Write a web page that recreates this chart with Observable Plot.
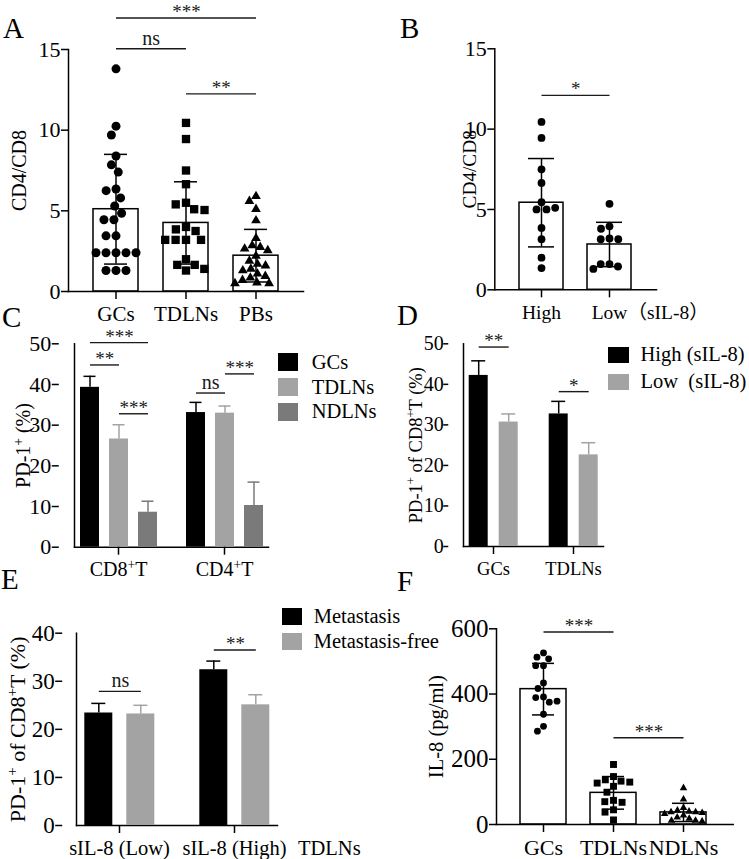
<!DOCTYPE html>
<html><head><meta charset="utf-8">
<script src="https://cdn.jsdelivr.net/npm/d3@7"></script>
<script src="https://cdn.jsdelivr.net/npm/@observablehq/plot@0.6"></script>
<style>
html,body{margin:0;padding:0;background:#fff;}
#fig{position:relative;width:749px;height:859px;overflow:hidden;background:#fff;font-family:"Liberation Serif","Times New Roman",serif;color:#000;}
.letter{font-size:29px;line-height:1;}
</style></head><body><div id="fig"></div>
<script>
// ---------------- DATA ----------------
// Panel A: CD4/CD8 by tissue
const aGroups = ["GCs", "TDLNs", "PBs"];
const aGCs = [13.8, 10.25, 9.7, 8.4, 7.85, 7.4, 6.35, 6.25, 5.8, 5.3, 4.85, 4.45, 4.45, 3.45, 3.45, 2.4, 2.4, 2.4, 2.4, 2.4, 1.3, 1.3, 1.3];
const aTDLNs = [10.45, 9.45, 7.5, 6.65, 5.5, 5.4, 5.1, 5.05, 4.0, 3.85, 3.75, 3.2, 3.2, 3.2, 3.2, 2.0, 1.65, 1.65, 1.4, 1.3];
const aPBs = [5.9, 5.6, 5.1, 4.4, 3.3, 2.85, 2.75, 2.65, 2.55, 2.2, 1.9, 1.7, 1.6, 1.4, 1.3, 1.1, 0.95, 0.85, 0.7, 0.55, 0.5, 0.5];
const aMean = [5.1, 4.25, 2.22];
const aSD = [3.4, 2.55, 1.63];
const aTicks = [0, 5, 10, 15];
const aSig = [
  {from: "GCs", to: "PBs", at: 16.95, label: "***"},
  {from: "GCs", to: "TDLNs", at: 15.05, label: "ns"},
  {from: "TDLNs", to: "PBs", at: 12.25, label: "**"}
];

// Panel B: CD4/CD8 by sIL-8 level
const bGroups = ["High", "Low"];
const bHigh = [10.45, 9.45, 7.5, 6.65, 5.45, 5.0, 5.0, 5.1, 3.85, 3.15, 2.0, 1.35];
const bLow = [5.35, 3.95, 3.8, 3.2, 3.15, 3.15, 1.6, 1.6, 1.45, 1.3];
const bMean = [5.42, 2.82];
const bSD = [2.75, 1.38];
const bTicks = [0, 5, 10, 15];
const bSig = [{from: "High", to: "Low", at: 12.1, label: "*"}];

// Panel C: PD-1+ (%)
const cGroups = ["CD8⁺T", "CD4⁺T"];
const cSeries = ["GCs", "TDLNs", "NDLNs"];
const cMean = [[39.3, 26.6, 8.6], [33.1, 32.95, 10.25]];
const cSD = [[2.7, 3.5, 2.7], [2.5, 1.75, 5.75]];
const cTicks = [0, 10, 20, 30, 40, 50];
const cSig = [
  {group: "CD8⁺T", from: "GCs", to: "NDLNs", at: 50.3, label: "***"},
  {group: "CD8⁺T", from: "GCs", to: "TDLNs", at: 44.8, label: "**"},
  {group: "CD8⁺T", from: "TDLNs", to: "NDLNs", at: 32.8, label: "***"},
  {group: "CD4⁺T", from: "GCs", to: "TDLNs", at: 37.9, label: "ns"},
  {group: "CD4⁺T", from: "TDLNs", to: "NDLNs", at: 42.6, label: "***"}
];

// Panel D: PD-1+ of CD8+T (%) by sIL-8
const dGroups = ["GCs", "TDLNs"];
const dSeries = ["High (sIL-8)", "Low\u00a0\u00a0(sIL-8)"];
const dMean = [[42.2, 30.7], [32.7, 22.6]];
const dSD = [[3.6, 2.0], [3.1, 3.0]];
const dTicks = [0, 10, 20, 30, 40, 50];
const dSig = [
  {group: "GCs", from: "High (sIL-8)", to: "Low\u00a0\u00a0(sIL-8)", at: 49.2, label: "**"},
  {group: "TDLNs", from: "High (sIL-8)", to: "Low\u00a0\u00a0(sIL-8)", at: 38.2, label: "*"}
];

// Panel E: PD-1+ of CD8+T (%) in TDLNs
const eGroups = ["sIL-8 (Low)", "sIL-8 (High)"];
const eSeries = ["Metastasis", "Metastasis-free"];
const eMean = [[23.4, 23.2], [32.4, 25.1]];
const eSD = [[2.0, 1.8], [1.8, 2.1]];
const eTicks = [0, 10, 20, 30, 40];
const eSig = [
  {group: "sIL-8 (Low)", from: "Metastasis", to: "Metastasis-free", at: 27.9, label: "ns"},
  {group: "sIL-8 (High)", from: "Metastasis", to: "Metastasis-free", at: 36.5, label: "**"}
];

// Panel F: IL-8 (pg/ml)
const fGroups = ["GCs", "TDLNs", "NDLNs"];
const fGCs = [526, 513, 508, 487, 487, 434, 417, 391, 389, 375, 378, 338, 301, 286];
const fTDLNs = [184, 147, 137, 133, 130, 127, 117, 99, 74, 70, 68, 45, 38, 14];
const fNDLNs = [112, 77, 51, 43, 40, 38, 38, 36, 33, 28, 22, 18, 12, 12, 10];
const fMean = [415, 97, 37];
const fSD = [79, 50, 28];
const fTicks = [0, 200, 400, 600];
const fSig = [
  {from: "GCs", to: "TDLNs", at: 590, label: "***"},
  {from: "TDLNs", to: "NDLNs", at: 266, label: "***"}
];

// ---------------- STYLE / LAYOUT ----------------
const FONT = '"Liberation Serif", "Times New Roman", "DejaVu Serif", "Noto Sans CJK SC", serif';
const baseStyle = {fontFamily: FONT, fontSize: "20px", background: "none", overflow: "visible", color: "#000"};
const BLACK = "#000000", LIGHT = "#a3a3a3", DARK = "#7a7a7a";
const fig = document.getElementById("fig");
const svgNS = "http://www.w3.org/2000/svg";
let extraCSS = "";

function place(el, left, top) {
  el.style.position = "absolute";
  el.style.left = left + "px";
  el.style.top = top + "px";
  fig.appendChild(el);
  return el;
}
function band(r0, r1, n, pi, po, align) {
  const step = (r1 - r0) / Math.max(1, n - pi + 2 * po);
  const start = r0 + (r1 - r0 - step * (n - pi)) * align;
  return {step, bw: step * (1 - pi), start};
}
function supify(root) {
  const walker = document.createTreeWalker(root, NodeFilter.SHOW_TEXT);
  const nodes = [];
  while (walker.nextNode()) if (walker.currentNode.nodeValue.includes("⁺")) nodes.push(walker.currentNode);
  for (const n of nodes) {
    const parts = n.nodeValue.split("⁺");
    const frag = document.createDocumentFragment();
    parts.forEach((p, i) => {
      if (i > 0) {
        const t = document.createElementNS(svgNS, "tspan");
        t.setAttribute("baseline-shift", "super");
        t.setAttribute("font-size", "68%");
        t.textContent = "+";
        frag.appendChild(t);
      }
      if (p) {
        const t = document.createElementNS(svgNS, "tspan");
        t.textContent = p;
        frag.appendChild(t);
      }
    });
    n.parentNode.replaceChild(frag, n);
  }
}
function sigMarks(sig, domain, step, extra = {}) {
  const idx = (v) => domain.indexOf(v);
  return [
    Plot.link(sig, {...extra, x1: "from", x2: "to", y1: "at", y2: "at", stroke: "#1a1a1a", strokeWidth: 1.4}),
    ...sig.map((s) => Plot.text([s], {
      ...extra, x: "from", y: "at", text: "label",
      dx: (idx(s.to) - idx(s.from)) / 2 * step,
      dy: s.label === "ns" ? -4 : 0,
      lineAnchor: "bottom", fontFamily: FONT, fontSize: s.label === "ns" ? 20 : 19, fill: "#1a1a1a"
    }))
  ];
}
function yAxes({ticks, tickFont, tickSize, tickPadding, dx = 0, ylabel, labelOffset, labelFont}) {
  return [
    Plot.axisY({ticks, tickSize, tickPadding, strokeWidth: 1.5, dx, fontFamily: FONT, fontVariant: "normal", fontSize: tickFont, label: null}),
    Plot.axisY({ticks: [], tickSize: 0, label: ylabel, labelAnchor: "center", labelOffset, labelArrow: "none", fontFamily: FONT, fontSize: labelFont})
  ];
}

function scatterPanel(cfg) {
  const {left, top, width, height, mL, mR, mT, mB, groups, values, means, sds, ticks, ylabel, labelOffset,
         pi, po, align, symbols, radii, capInset, sig, tickFont = 22, xFont = 21, labelFont = 20,
         tickSize = 7, tickPadding = 1, extra = []} = cfg;
  const stats = groups.map((g, i) => ({group: g, mean: means[i], sd: sds[i]}));
  const dots = groups.flatMap((g, i) => values[i].map((v) => ({group: g, value: v})));
  const common = {width, height, marginLeft: mL, marginRight: mR, marginTop: mT, marginBottom: mB, style: baseStyle};
  const xs = {domain: groups, paddingInner: pi, paddingOuter: po, align};
  const yDomain = [ticks[0], ticks[ticks.length - 1]];
  const {step} = band(mL, width - mR, groups.length, pi, po, align);
  const main = Plot.plot({
    ...common, x: xs, y: {domain: yDomain},
    marks: [
      Plot.barY(stats, {x: "group", y: "mean", fill: "white", stroke: "black", strokeWidth: 1.5}),
      Plot.ruleX(stats, {x: "group", y1: (d) => d.mean - d.sd, y2: (d) => d.mean + d.sd, stroke: "black", strokeWidth: 1.5}),
      Plot.tickY(stats, {x: "group", y: (d) => d.mean + d.sd, stroke: "black", strokeWidth: 1.5, insetLeft: capInset, insetRight: capInset}),
      Plot.tickY(stats, {x: "group", y: (d) => d.mean - d.sd, stroke: "black", strokeWidth: 1.5, insetLeft: capInset, insetRight: capInset}),
      Plot.frame({anchor: "left", strokeWidth: 1.5}),
      Plot.frame({anchor: "bottom", strokeWidth: 1.5}),
      ...yAxes({ticks, tickFont, tickSize, tickPadding, ylabel, labelOffset, labelFont}),
      Plot.axisX({tickSize: 8, tickPadding: 7, strokeWidth: 1.5, fontFamily: FONT, fontSize: xFont, label: null}),
      ...sigMarks(sig, groups, step),
      ...extra
    ]
  });
  const over = Plot.plot({
    ...common, fx: {...xs, axis: null}, y: {domain: yDomain, axis: null},
    marks: groups.map((g, i) => Plot.dot(dots.filter((d) => d.group === g),
      Plot.dodgeX("middle", {fx: "group", y: "value", r: radii[i], symbol: symbols[i], fill: "black", stroke: "none", padding: 1})))
  });
  place(main, left, top);
  place(over, left, top);
  supify(main);
}

function groupedPanel(cfg) {
  const {left, top, width, height, mL, mR, mT, mB, groups, series, colors, means, sds, ticks, ylabel, labelOffset,
         fxp, xp, capInset, sig, tickFont = 22, xFont = 20, labelFont = 20, tickSize = 7, tickPadding = 1, extra = []} = cfg;
  const rows = groups.flatMap((g, i) => series.map((s, j) => ({group: g, series: s, mean: means[i][j], sd: sds[i][j]})));
  const outer = band(mL, width - mR, groups.length, fxp.pi, fxp.po, fxp.align);
  const inner = band(0, outer.bw, series.length, xp.pi, xp.po, 0.5);
  const shift = outer.start - mL; // y axis is drawn beside the first facet; move it back to the frame edge
  const yDomain = [ticks[0], ticks[ticks.length - 1]];
  const plot = Plot.plot({
    width, height, marginLeft: mL, marginRight: mR, marginTop: mT, marginBottom: mB, style: baseStyle,
    fx: {domain: groups, paddingInner: fxp.pi, paddingOuter: fxp.po, align: fxp.align},
    x: {domain: series, paddingInner: xp.pi, paddingOuter: xp.po, axis: null},
    y: {domain: yDomain},
    color: {domain: series, range: colors},
    marks: [
      Plot.frame({facet: "super", anchor: "left", strokeWidth: 1.5}),
      Plot.frame({facet: "super", anchor: "bottom", strokeWidth: 1.5}),
      Plot.barY(rows, {fx: "group", x: "series", y: "mean", fill: "series"}),
      Plot.ruleX(rows, {fx: "group", x: "series", y1: "mean", y2: (d) => d.mean + d.sd, stroke: "series", strokeWidth: 1.5}),
      Plot.tickY(rows, {fx: "group", x: "series", y: (d) => d.mean + d.sd, stroke: "series", strokeWidth: 1.5, insetLeft: capInset, insetRight: capInset}),
      ...yAxes({ticks, tickFont, tickSize, tickPadding, dx: -shift, ylabel, labelOffset: labelOffset + shift, labelFont}),
      Plot.axisFx({anchor: "bottom", tickSize: 8, tickPadding: 7, strokeWidth: 1.5, fontFamily: FONT, fontSize: xFont, label: null}),
      ...sigMarks(sig, series, inner.step, {fx: "group"}),
      ...extra
    ]
  });
  place(plot, left, top);
  supify(plot);
}

function legend(domain, range, left, top, cls, sw, sh, rowH, gap) {
  const el = Plot.legend({
    color: {domain, range}, columns: 1, swatchWidth: sw, swatchHeight: sh, className: cls,
    style: {fontFamily: FONT, fontSize: "20.5px", margin: "0", width: "220px", color: "#000", background: "none"}
  });
  extraCSS += `.${cls}-swatch{height:${rowH}px;padding-bottom:0 !important;}
.${cls}-swatch>svg{margin-right:${gap}px !important;}
.${cls}-swatches{margin:0 !important;}
.${cls}-swatch-label{overflow:visible !important;}`;
  place(el, left, top);
}

// ---------------- PANELS ----------------
scatterPanel({
  left: 0, top: 0, width: 320, height: 330, mL: 68, mR: 17, mT: 49, mB: 39,
  groups: aGroups, values: [aGCs, aTDLNs, aPBs], means: aMean, sds: aSD, ticks: aTicks,
  ylabel: "CD4/CD8", labelOffset: 57, pi: 0.362, po: 0.348, align: 0.5,
  symbols: ["circle", "square", "triangle"], radii: [4.5, 4.7, 3.6], capInset: 11, sig: aSig
});

scatterPanel({
  left: 380, top: 0, width: 340, height: 330, mL: 114.3, mR: 64, mT: 48.3, mB: 40.7,
  groups: bGroups, values: [bHigh, bLow], means: bMean, sds: bSD, ticks: bTicks,
  ylabel: "CD4/CD8", labelOffset: 33, labelFont: 19.3, xFont: 19.5, pi: 0.35, po: 0.355, align: 0.5,
  symbols: ["circle", "circle"], radii: [3.9, 3.9], capInset: 9, sig: bSig,
  extra: [Plot.text(["（sIL-8）"], {x: () => "Low", text: (d) => d, frameAnchor: "bottom", textAnchor: "start", lineAnchor: "top", dx: 18, dy: 15, fontFamily: FONT, fontSize: 19.5})]
});

groupedPanel({
  left: 0, top: 300, width: 280, height: 290, mL: 58, mR: 7, mT: 43.3, mB: 43.3,
  groups: cGroups, series: cSeries, colors: [BLACK, LIGHT, DARK], means: cMean, sds: cSD, ticks: cTicks,
  ylabel: "PD-1⁺ (%)", labelOffset: 43,
  fxp: {pi: 0.17, po: 0.0925, align: 0.771}, xp: {pi: 0.356, po: 0.179}, capInset: 3.5, sig: cSig
});

groupedPanel({
  left: 380, top: 300, width: 240, height: 290, mL: 68.3, mR: 11.7, mT: 43.3, mB: 44,
  groups: dGroups, series: dSeries, colors: [BLACK, LIGHT], means: dMean, sds: dSD, ticks: dTicks,
  ylabel: "PD-1⁺ of CD8⁺T (%)", labelOffset: 40, labelFont: 18.5, tickFont: 20, xFont: 18.5, tickSize: 5, tickPadding: 0,
  fxp: {pi: 0.253, po: 0.123, align: 0.746}, xp: {pi: 0.367, po: 0.183}, capInset: 2.5, sig: dSig
});

groupedPanel({
  left: 0, top: 590, width: 380, height: 269, mL: 61.7, mR: 97.3, mT: 42.7, mB: 34,
  groups: eGroups, series: eSeries, colors: [BLACK, LIGHT], means: eMean, sds: eSD, ticks: eTicks,
  ylabel: "PD-1⁺ of CD8⁺T (%)", labelOffset: 53, labelFont: 22, tickFont: 23, xFont: 20.5,
  fxp: {pi: 0.25, po: 0.0825, align: 0.724}, xp: {pi: 0.33, po: 0.165}, capInset: 7, sig: eSig,
  extra: [Plot.text(["TDLNs"], {fx: () => "sIL-8 (High)", text: (d) => d, frameAnchor: "bottom-right", textAnchor: "start", lineAnchor: "top", dx: 20.5, dy: 15, fontFamily: FONT, fontSize: 20.5})]
});

scatterPanel({
  left: 420, top: 590, width: 329, height: 269, mL: 76, mR: 16.3, mT: 38.3, mB: 35,
  groups: fGroups, values: [fGCs, fTDLNs, fNDLNs], means: fMean, sds: fSD, ticks: fTicks,
  ylabel: "IL-8 (pg/ml)", labelOffset: 68, labelFont: 20.5, pi: 0.343, po: 0.344, align: 0.48, tickFont: 25, xFont: 22,
  symbols: ["circle", "square", "triangle"], radii: [3.4, 3.9, 2.8], capInset: 12, sig: fSig
});

// ---------------- LEGENDS ----------------
legend(cSeries, [BLACK, LIGHT, DARK], 277.7, 350, "lgc", 20, 18, 24.7, 14);
legend(dSeries, [BLACK, LIGHT], 607.5, 341.6, "lgd", 21, 16, 26.7, 12);
legend(eSeries, [BLACK, LIGHT], 281.7, 604.2, "lge", 20, 17, 25, 12);
const st = document.createElement("style");
st.textContent = extraCSS;
document.head.appendChild(st);

// ---------------- PANEL LETTERS ----------------
const letters = ["A", "B", "C", "D", "E", "F"];
const letterPos = [[3, 14], [400, 14], [2, 303], [397, 301], [1, 565], [397, 567]];
letters.forEach((t, i) => {
  const d = document.createElement("div");
  d.className = "letter";
  d.textContent = t;
  place(d, letterPos[i][0], letterPos[i][1]);
});
</script></body></html>
